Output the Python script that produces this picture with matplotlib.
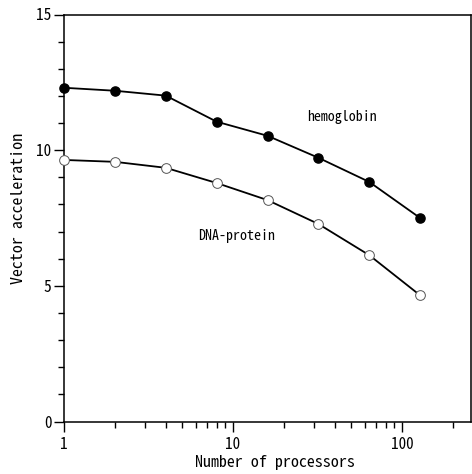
import matplotlib
matplotlib.use("Agg")
import matplotlib.pyplot as plt
from matplotlib.ticker import FixedLocator, MultipleLocator, LogLocator, NullFormatter, FixedFormatter

plt.rcParams['font.family'] = ['Noto Sans Mono CJK JP', 'DejaVu Sans Mono']

processors = [1, 2, 4, 8, 16, 32, 64, 128]
hemoglobin = [12.30, 12.19, 12.01, 11.05, 10.53, 9.72, 8.83, 7.50]
dna_protein = [9.64, 9.57, 9.35, 8.79, 8.16, 7.28, 6.13, 4.65]
xtick_vals = [1, 10, 100]
xtick_labels = ["1", "10", "100"]
ytick_vals = [0, 5, 10, 15]

fig = plt.figure(figsize=(4.72, 4.74), dpi=100)
ax = fig.add_axes([64/472, 1 - 421.5/474, (471 - 64)/472, (421.5 - 14.5)/474])

ax.plot(processors, hemoglobin, color='black', lw=1.3, marker='o', ms=6.6,
        mfc='black', mec='black', zorder=3, clip_on=False)
ax.plot(processors, dna_protein, color='black', lw=1.3, marker='o', ms=7,
        mfc='white', mec='#555555', mew=0.7, zorder=3, clip_on=False)

ax.set_xscale('log')
ax.set_xlim(1, 256)
ax.set_ylim(0, 15)

ax.xaxis.set_major_locator(FixedLocator(xtick_vals))
ax.xaxis.set_major_formatter(FixedFormatter(xtick_labels))
ax.xaxis.set_minor_locator(LogLocator(base=10, subs=range(2, 10), numticks=20))
ax.xaxis.set_minor_formatter(NullFormatter())
ax.yaxis.set_major_locator(FixedLocator(ytick_vals))
ax.yaxis.set_minor_locator(MultipleLocator(1))

ax.tick_params(which='both', direction='out', top=False, right=False, labelsize=11)
ax.tick_params(axis='x', pad=4)
ax.tick_params(axis='y', pad=2)
ax.tick_params(which='major', length=7, width=1)
ax.tick_params(which='minor', length=4, width=1)
for s in ax.spines.values():
    s.set_linewidth(1.1)

fig.text(342/472, 1 - 117/474, 'hemoglobin', fontsize=10, ha='center', va='center')
fig.text(237/472, 1 - 236/474, 'DNA-protein', fontsize=10, ha='center', va='center')

fig.text(275/472, 1 - 463/474, 'Number of processors', fontsize=11.5, ha='center', va='center')
fig.text(19/472, 1 - 208/474, 'Vector acceleration', fontsize=11.5, ha='center', va='center',
         rotation=90)

fig.savefig('out.png', dpi=100)
